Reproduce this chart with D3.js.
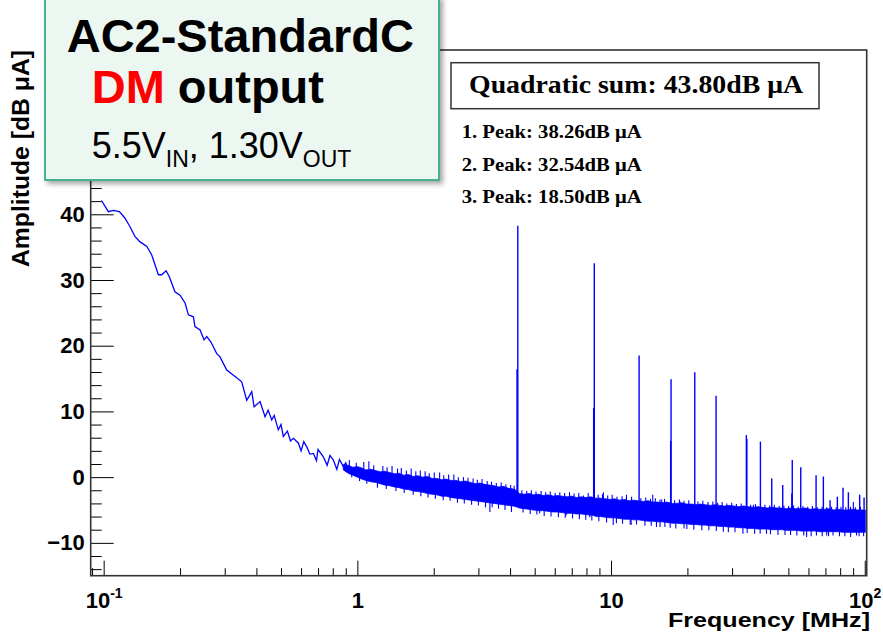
<!DOCTYPE html>
<html lang="en">
<head>
<meta charset="UTF-8">
<title>AC2-StandardC DM output spectrum</title>
<script src="https://d3js.org/d3.v7.min.js"></script>
<style>
  body { margin: 0; background: #fff; }
  svg { display: block; }
  .axis text { font-family: "Liberation Sans", Arial, sans-serif; font-weight: bold; font-size: 22px; fill: #000; }
  .axis line { stroke: #000; stroke-width: 1; }
  .axis path { display: none; }
  .pave { font-family: "Liberation Serif", "Times New Roman", serif; font-weight: bold; fill: #000; }
  .note { font-family: "Liberation Sans", Arial, sans-serif; fill: #000; }
</style>
</head>
<body>
<svg width="883" height="643"></svg>
<script>
// ---- data ----
// smooth low-frequency part of the spectrum (MHz, dB uA)
const lowFreq = [0.098, 0.1044, 0.1092, 0.1153, 0.1214, 0.127, 0.133, 0.1392, 0.148, 0.1547,
  0.1643, 0.1694, 0.1762, 0.1815, 0.191, 0.2, 0.2094, 0.2158, 0.2258, 0.229,
  0.2399, 0.2487, 0.2549, 0.2645, 0.2791, 0.2876, 0.3055, 0.3296, 0.35, 0.3664,
  0.3835, 0.3917, 0.4136, 0.4327, 0.445, 0.4598, 0.47, 0.488, 0.5, 0.5108,
  0.53, 0.545, 0.5594, 0.5852, 0.6, 0.615, 0.632, 0.65, 0.671, 0.69,
  0.7, 0.7345, 0.76, 0.78, 0.8044, 0.83, 0.85, 0.8809, 0.9, 0.92];
const lowDb = [42.1, 40.4, 40.6, 40.4, 39.4, 38.1, 36.6, 35.8, 35.1, 33.8,
  30.8, 30.8, 31.4, 30.5, 28.2, 27.7, 26.5, 24.7, 24.4, 22.9,
  22.4, 20.9, 21.4, 20.6, 18.8, 18.3, 16.3, 15.3, 14.5, 11.7,
  13.0, 10.7, 11.5, 9.2, 10.2, 8.7, 9.4, 7.2, 8.0, 6.2,
  7.0, 5.5, 5.9, 5.2, 4.0, 5.4, 4.6, 3.5, 3.6, 2.5,
  4.2, 3.1, 1.8, 3.3, 2.6, 1.2, 2.7, 1.6, 2.2, 1.1];

// noise floor band above ~1 MHz: upper and lower edge of its solid core
const bandFreq = [0.88, 0.92, 0.96, 1.0, 1.04, 1.08, 1.13, 1.18, 1.23, 1.28,
  1.34, 1.4, 1.46, 1.52, 1.59, 1.66, 1.73, 1.81, 1.89, 1.97,
  2.06, 2.15, 2.24, 2.34, 2.45, 2.56, 2.67, 2.79, 2.91, 3.04,
  3.17, 3.31, 3.46, 3.61, 3.77, 3.94, 4.11, 4.22, 4.35, 4.54,
  4.74, 4.95, 5.17, 5.4, 5.64, 5.89, 6.15, 6.42, 6.7, 7.0,
  7.3, 7.63, 7.96, 8.32, 8.5, 8.7, 9.08, 9.48, 9.9, 10.3,
  10.8, 11.3, 11.8, 12.3, 12.8, 13.4, 14.0, 14.6, 15.3, 15.9,
  16.6, 17.4, 18.2, 19.0, 19.8, 20.7, 21.6, 22.5, 23.5, 24.6,
  25.7, 26.8, 28.0, 29.2, 30.5, 31.9, 33.3, 34.7, 36.3, 37.9,
  39.5, 41.3, 43.1, 45.0, 47.0, 49.1, 51.2, 53.5, 55.9, 58.3,
  60.9, 63.6, 66.4, 69.3, 72.4, 75.6, 78.9, 82.4, 86.0, 89.8,
  93.8, 97.9, 100.5];
const bandHi = [1.9, 1.8, 1.5, 1.6, 1.4, 1.1, 1.2, 1.0, 0.8, 0.9,
  0.7, 0.5, 0.6, 0.3, 0.4, 0.1, 0.2, 0.0, 0.1, -0.2,
  -0.2, -0.4, -0.3, -0.5, -0.5, -0.7, -0.6, -0.8, -1.0, -0.9,
  -1.1, -1.2, -1.3, -1.5, -1.4, -1.7, -1.8, -2.0, -2.5, -2.6,
  -2.5, -2.7, -2.6, -2.8, -2.7, -2.9, -2.8, -2.9, -3.0, -2.9,
  -3.1, -3.0, -3.1, -3.0, -3.1, -3.2, -3.2, -3.3, -3.4, -3.3,
  -3.5, -3.4, -3.6, -3.5, -3.6, -3.7, -3.6, -3.8, -3.8, -3.9,
  -3.8, -4.0, -4.0, -3.9, -4.1, -4.1, -4.2, -4.1, -4.2, -4.3,
  -4.2, -4.3, -4.4, -4.3, -4.4, -4.5, -4.4, -4.5, -4.6, -4.5,
  -4.6, -4.7, -4.6, -4.7, -4.7, -4.8, -4.7, -4.8, -4.8, -4.7,
  -4.9, -4.8, -4.9, -4.9, -4.8, -5.0, -4.9, -5.0, -5.0, -4.9,
  -5.0, -5.0, -5.0];
const bandLo = [1.1, 0.6, 0.3, 0.0, -0.3, -0.5, -0.7, -0.8, -1.0, -1.2,
  -1.3, -1.5, -1.6, -1.8, -1.9, -2.1, -2.2, -2.3, -2.5, -2.6,
  -2.7, -2.9, -2.9, -3.1, -3.2, -3.3, -3.4, -3.5, -3.6, -3.7,
  -3.8, -3.9, -4.0, -4.1, -4.2, -4.3, -4.4, -4.5, -4.7, -4.8,
  -4.9, -5.0, -5.1, -5.1, -5.2, -5.3, -5.3, -5.4, -5.5, -5.5,
  -5.6, -5.6, -5.7, -5.8, -5.8, -6.0, -6.0, -6.1, -6.2, -6.2,
  -6.3, -6.4, -6.4, -6.5, -6.5, -6.6, -6.7, -6.7, -6.8, -6.8,
  -6.9, -7.0, -7.0, -7.1, -7.1, -7.2, -7.2, -7.3, -7.3, -7.4,
  -7.4, -7.5, -7.5, -7.6, -7.6, -7.7, -7.7, -7.8, -7.8, -7.9,
  -7.9, -7.9, -8.0, -8.0, -8.0, -8.1, -8.1, -8.1, -8.2, -8.2,
  -8.2, -8.2, -8.3, -8.3, -8.3, -8.3, -8.3, -8.4, -8.4, -8.4,
  -8.4, -8.4, -8.4];

// harmonic peaks (MHz, dB uA)
const peakFreq = [4.29, 4.26, 8.59, 8.54, 12.9, 17.24, 17.18, 21.38, 25.94, 34.15,
  34.3, 38.8, 43.0, 47.5, 51.8, 51.6, 55.95, 64.3, 68.7, 73.0,
  78.0, 82.1, 86.2, 95.5, 99.4];
const peakDb = [38.26, 16.4, 32.54, 10.5, 18.5, 14.9, 5.5, 15.95, 12.4, 6.4,
  5.8, 5.4, -0.2, -1.2, 2.6, -2.5, 1.5, 0.3, 0.1, -3.5,
  -3.0, -1.6, -2.3, -2.7, -3.1];

// noise spikes sticking out above the band
const upSpikeFreq = [0.93, 0.99, 1.06, 1.11, 1.16, 1.26, 1.31, 1.37, 1.44, 1.49,
  1.56, 1.63, 1.7, 1.77, 1.85, 1.92, 2.01, 2.11, 2.19, 2.29,
  2.4, 2.5, 2.62, 2.73, 2.86, 2.97, 3.1, 3.19, 3.25, 3.38,
  3.53, 3.6, 3.69, 3.85, 3.94, 4.02, 4.15, 4.45, 4.65, 4.8,
  4.85, 5.06, 5.3, 5.52, 5.76, 5.84, 6.02, 6.28, 6.56, 6.86,
  7.0, 7.15, 7.46, 7.78, 8.13, 8.9, 9.25, 9.33, 9.7, 10.1,
  10.55, 11.05, 11.5, 12.05, 13.1, 13.7, 14.3, 14.6, 14.95, 15.6,
  15.84, 16.25, 17.8, 18.6, 18.7, 19.4, 20.25, 22.0, 23.0, 24.1,
  25.2, 26.3, 27.4, 28.6, 29.9, 31.2, 32.6, 35.5, 36.4, 37.1,
  40.4, 42.2, 44.0, 46.0, 48.0, 50.1, 52.4, 54.7, 57.1, 59.6,
  62.2, 65.0, 67.9, 70.8, 74.0, 77.2, 80.6, 84.2, 87.9, 90.2,
  91.8, 96.2];
const upSpikeDb = [2.6, 2.2, 2.3, 2.4, 1.8, 1.7, 1.5, 1.7, 1.3, 1.4,
  1.0, 1.3, 0.9, 1.0, 0.9, 0.6, 0.7, 0.7, 0.3, 0.4,
  0.4, 0.0, 0.0, -0.1, -0.2, -0.4, -0.3, -1.55, -0.6, -0.7,
  -0.9, -1.5, -0.8, -1.1, -1.7, -1.2, -1.3, -2.0, -2.1, -2.5,
  -2.0, -2.2, -2.1, -2.3, -2.2, -2.7, -2.4, -2.3, -2.4, -2.3,
  -2.9, -2.5, -2.4, -2.8, -2.4, -2.7, -2.6, -2.3, -2.8, -2.7,
  -3.0, -2.9, -2.7, -3.0, -3.2, -3.1, -3.3, -2.7, -3.2, -3.4,
  -3.4, -3.3, -3.5, -3.4, -3.7, -3.6, -3.5, -3.7, -3.6, -3.8,
  -3.7, -3.9, -3.8, -4.0, -3.9, -4.1, -4.0, -4.2, -4.2, -4.1,
  -4.2, -4.3, -4.2, -4.4, -4.3, -4.4, -4.3, -4.5, -4.4, -4.5,
  -4.4, -4.6, -4.5, -4.6, -4.5, -4.6, -4.5, -4.6, -4.5, -3.8,
  -4.6, -4.5];

// noise spikes sticking out below the band
const downSpikeFreq = [0.95, 1.02, 1.09, 1.2, 1.3, 1.42, 1.53, 1.66, 1.78, 1.9,
  2.03, 2.18, 2.32, 2.48, 2.64, 2.82, 3.0, 3.2, 3.33, 3.4,
  3.6, 3.82, 4.05, 4.5, 4.8, 5.1, 5.23, 5.45, 5.8, 6.2,
  6.6, 6.66, 7.05, 7.5, 7.95, 8.24, 8.4, 8.95, 9.6, 10.2,
  10.5, 11.1, 11.9, 12.0, 12.6, 13.6, 14.4, 15.1, 15.6, 16.3,
  17.1, 18.0, 19.4, 19.9, 21.2, 22.8, 24.3, 26.0, 27.7, 29.0,
  30.8, 33.1, 34.4, 36.8, 38.7, 41.0, 42.5, 45.5, 48.5, 51.0,
  54.0, 57.5, 59.0, 61.5, 64.5, 68.0, 70.8, 72.0, 75.0, 79.5,
  83.5, 88.0, 92.8, 95.0, 99.0];
const downSpikeDb = [0.0, -0.6, -1.0, -1.6, -1.8, -2.1, -2.4, -2.7, -2.9, -3.1,
  -3.3, -3.5, -3.6, -3.9, -4.0, -4.2, -4.3, -4.6, -5.3, -4.6,
  -4.8, -5.0, -5.3, -5.4, -5.6, -5.7, -5.5, -5.9, -6.0, -6.1,
  -6.2, -5.8, -6.3, -6.4, -6.5, -6.1, -6.6, -6.7, -6.9, -7.3,
  -7.0, -7.1, -7.2, -7.3, -7.2, -7.4, -7.4, -7.6, -7.6, -7.6,
  -7.7, -7.8, -7.8, -7.9, -8.0, -8.1, -8.1, -8.2, -8.3, -8.4,
  -8.4, -8.6, -8.5, -8.6, -8.6, -8.6, -8.7, -8.8, -8.8, -8.8,
  -8.9, -8.9, -9.1, -9.0, -8.9, -9.0, -8.9, -9.0, -8.9, -9.0,
  -9.0, -9.1, -8.9, -9.0, -9.0];

const xTickValues = [0.1, 1, 10, 100];
const xTickLabels = [["10", "-1"], ["1", ""], ["10", ""], ["10", "2"]];
const yTickValues = [-10, 0, 10, 20, 30, 40, 50, 60];

const peakLines = ["1. Peak: 38.26dB \u03bcA", "2. Peak: 32.54dB \u03bcA", "3. Peak: 18.50dB \u03bcA"];

// ---- drawing ----
const svg = d3.select("svg");
const frameL = 90.7, frameR = 866.7, frameT = 50, frameB = 575.7;
const blue = "#0000ff";

const x = d3.scaleLog().domain([0.0889, 101.8]).range([frameL, frameR]);
const y = d3.scaleLinear().domain([-15, 65]).range([frameB, frameT]);

const defs = svg.append("defs");
defs.append("clipPath").attr("id", "plotclip")
  .append("rect").attr("x", frameL).attr("y", frameT)
  .attr("width", frameR - frameL).attr("height", frameB - frameT);

// y axis (ticks point inward)
const yMinor = d3.range(-14, 65, 2).filter(v => v % 10 !== 0);
svg.append("g").attr("class", "axis").attr("transform", `translate(${frameL},0)`)
  .call(d3.axisLeft(y).tickValues(yMinor).tickSizeInner(-11).tickSizeOuter(0).tickFormat(""));
svg.append("g").attr("class", "axis").attr("transform", `translate(${frameL},0)`)
  .call(d3.axisLeft(y).tickValues(yTickValues).tickSizeInner(-23).tickSizeOuter(0).tickPadding(6));

// x axis
const xMinor = x.ticks().filter(v => !xTickValues.includes(v));
svg.append("g").attr("class", "axis").attr("transform", `translate(0,${frameB})`)
  .call(d3.axisBottom(x).tickValues(xMinor).tickSizeInner(-7.5).tickSizeOuter(0).tickFormat(""));
let xAxisG = svg.append("g").attr("class", "axis").attr("transform", `translate(0,${frameB})`)
  .call(d3.axisBottom(x).tickValues(xTickValues).tickSizeInner(-15).tickSizeOuter(0).tickPadding(16.7));
xAxisG.selectAll("text").each(function(d, i) {
  let t = d3.select(this).text(null);
  t.append("tspan").text(xTickLabels[i][0]);
  if (xTickLabels[i][1]) {
    t.append("tspan").attr("dy", "-0.7em").style("font-size", "14px").text(xTickLabels[i][1]);
  }
});

// frame
svg.append("rect")
  .attr("x", frameL).attr("y", frameT)
  .attr("width", frameR - frameL).attr("height", frameB - frameT)
  .attr("fill", "none").attr("stroke", "#333").attr("stroke-width", 1.6);

// spectrum
let plot = svg.append("g").attr("clip-path", "url(#plotclip)");

let idx = d3.range(bandFreq.length);
plot.append("path")
  .attr("d", d3.area()
    .x(i => x(bandFreq[i]))
    .y0(i => y(bandLo[i]))
    .y1(i => y(bandHi[i]))(idx))
  .attr("fill", blue).attr("stroke", blue).attr("stroke-width", 0.8);

plot.append("path")
  .attr("d", d3.line().x(d => x(d[0])).y(d => y(d[1]))(d3.zip(lowFreq, lowDb)))
  .attr("fill", "none").attr("stroke", blue).attr("stroke-width", 1.3);

function bandMid(f) {
  let i = Math.min(d3.bisectLeft(bandFreq, f), bandFreq.length - 1);
  return (bandHi[i] + bandLo[i]) / 2;
}

let spikes = d3.zip(upSpikeFreq, upSpikeDb).concat(d3.zip(downSpikeFreq, downSpikeDb));
plot.selectAll("line.spike")
  .data(spikes)
  .join("line")
  .attr("class", "spike")
  .attr("x1", d => x(d[0])).attr("x2", d => x(d[0]))
  .attr("y1", d => y(d[1])).attr("y2", d => y(bandMid(d[0])))
  .attr("stroke", blue).attr("stroke-width", 1.1);

plot.selectAll("line.peak")
  .data(d3.zip(peakFreq, peakDb))
  .join("line")
  .attr("class", "peak")
  .attr("x1", d => x(d[0])).attr("x2", d => x(d[0]))
  .attr("y1", d => y(d[1])).attr("y2", d => y(bandMid(d[0])))
  .attr("stroke", blue).attr("stroke-width", 1.4);

// axis titles
svg.append("text")
  .attr("transform", "translate(28.5,50) rotate(-90)")
  .attr("text-anchor", "end")
  .attr("textLength", 217).attr("lengthAdjust", "spacingAndGlyphs")
  .style("font-family", "Liberation Sans, Arial, sans-serif")
  .style("font-weight", "bold").style("font-size", "23px")
  .text("Amplitude [dB \u03bcA]");

svg.append("text")
  .attr("x", 668).attr("y", 627)
  .attr("textLength", 202).attr("lengthAdjust", "spacingAndGlyphs")
  .style("font-family", "Liberation Sans, Arial, sans-serif")
  .style("font-weight", "bold").style("font-size", "21px")
  .text("Frequency [MHz]");

// stats pave
svg.append("rect")
  .attr("x", 451).attr("y", 62.7).attr("width", 368).attr("height", 46)
  .attr("fill", "#fff").attr("stroke", "#333").attr("stroke-width", 1.5);
svg.append("text").attr("class", "pave")
  .attr("x", 469).attr("y", 93)
  .attr("textLength", 334).attr("lengthAdjust", "spacingAndGlyphs")
  .style("font-size", "26px")
  .text("Quadratic sum: 43.80dB \u03bcA");

svg.selectAll("text.peakline")
  .data(peakLines)
  .join("text")
  .attr("class", "pave peakline")
  .attr("x", 461.7)
  .attr("y", (d, i) => 138.3 + i * 32.5)
  .attr("textLength", 180).attr("lengthAdjust", "spacingAndGlyphs")
  .style("font-size", "19.5px")
  .text(d => d);

// slide annotation box
let shadow = defs.append("filter").attr("id", "shadow")
  .attr("x", "-10%").attr("y", "-10%").attr("width", "125%").attr("height", "130%");
shadow.append("feDropShadow").attr("dx", 3).attr("dy", 3).attr("stdDeviation", 2.5)
  .attr("flood-color", "#000").attr("flood-opacity", 0.35);

svg.append("rect")
  .attr("x", 45).attr("y", -3).attr("width", 394).attr("height", 183)
  .attr("fill", "#edf7f2").attr("stroke", "#46b08f").attr("stroke-width", 2)
  .attr("filter", "url(#shadow)");

svg.append("text").attr("class", "note")
  .attr("x", 66.7).attr("y", 51.7)
  .style("font-weight", "bold").style("font-size", "47px")
  .text("AC2-StandardC");

let dm = svg.append("text").attr("class", "note")
  .attr("x", 91.7).attr("y", 103)
  .style("font-weight", "bold").style("font-size", "47px");
dm.append("tspan").attr("fill", "#ff0000").text("DM");
dm.append("tspan").text(" output");

let volt = svg.append("text").attr("class", "note")
  .attr("x", 91.7).attr("y", 158.3)
  .style("font-size", "36px");
volt.append("tspan").text("5.5V");
volt.append("tspan").attr("dy", 8.4).style("font-size", "23px").text("IN");
volt.append("tspan").attr("dy", -8.4).text(", 1.30V");
volt.append("tspan").attr("dy", 8.4).style("font-size", "23px").text("OUT");
</script>
</body>
</html>
